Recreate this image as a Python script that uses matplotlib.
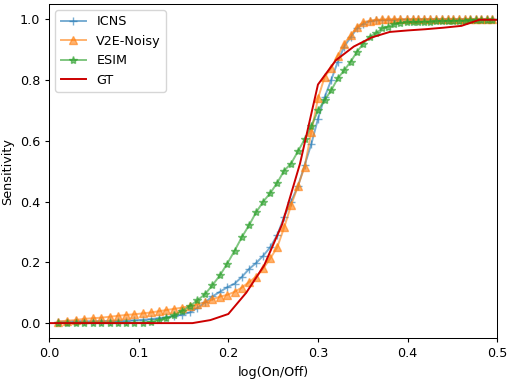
import numpy as np
import matplotlib
matplotlib.use("Agg")
import matplotlib.pyplot as plt

# contrast ratios sampled (x = log(On/Off))
contrast = np.arange(101, 165) / 100.0

icns = [0.005, 0.005, 0.006, 0.006, 0.006, 0.007, 0.007, 0.008, 0.008, 0.009,
        0.011, 0.013, 0.016, 0.019, 0.024, 0.028, 0.035, 0.050, 0.068, 0.088,
        0.103, 0.118, 0.130, 0.152, 0.178, 0.198, 0.222, 0.250, 0.290, 0.350,
        0.400, 0.450, 0.520, 0.590, 0.673, 0.744, 0.800, 0.860, 0.910, 0.940,
        0.970, 0.985, 0.993, 0.996, 0.997, 0.998, 0.998, 0.999, 0.999, 0.999,
        1.000, 1.000, 1.000, 1.000, 1.000, 1.000, 1.000, 1.000, 1.000, 1.000,
        1.000, 1.000, 1.000, 1.000]

v2e = [0.005, 0.008, 0.010, 0.014, 0.016, 0.018, 0.021, 0.024, 0.027, 0.029,
       0.032, 0.035, 0.039, 0.043, 0.047, 0.051, 0.056, 0.062, 0.068, 0.078,
       0.087, 0.093, 0.103, 0.117, 0.135, 0.153, 0.180, 0.213, 0.250, 0.315,
       0.388, 0.450, 0.515, 0.630, 0.740, 0.810, 0.840, 0.880, 0.920, 0.947,
       0.975, 0.990, 0.995, 0.998, 0.999, 1.000, 1.000, 1.000, 1.000, 1.000,
       1.000, 1.000, 1.000, 1.000, 1.000, 1.000, 1.000, 1.000, 1.000, 1.000,
       1.000, 1.000, 1.000, 1.000]

esim = [0.000, 0.000, 0.000, 0.000, 0.000, 0.000, 0.000, 0.000, 0.000, 0.001,
        0.002, 0.004, 0.009, 0.016, 0.026, 0.040, 0.056, 0.075, 0.095, 0.125,
        0.157, 0.196, 0.238, 0.283, 0.322, 0.365, 0.400, 0.428, 0.462, 0.502,
        0.525, 0.565, 0.605, 0.648, 0.700, 0.734, 0.766, 0.805, 0.832, 0.860,
        0.893, 0.920, 0.942, 0.953, 0.970, 0.975, 0.983, 0.988, 0.990, 0.990,
        0.991, 0.992, 0.992, 0.993, 0.993, 0.994, 0.994, 0.995, 0.995, 0.996,
        0.996, 0.997, 0.997, 0.998]

gt_x = [0.00, 0.02, 0.04, 0.06, 0.08, 0.10, 0.12, 0.14, 0.16, 0.18, 0.20, 0.22,
        0.24, 0.26, 0.28, 0.30, 0.32, 0.34, 0.36, 0.38, 0.40, 0.42, 0.44, 0.46,
        0.48, 0.50]
gt = [0.0, 0.0, 0.0, 0.0, 0.0, 0.0, 0.0, 0.0, 0.0, 0.01, 0.03, 0.10,
      0.19, 0.325, 0.525, 0.785, 0.865, 0.91, 0.94, 0.958, 0.963, 0.967, 0.972, 0.978,
      0.998, 0.998]

x = np.log(contrast)

s = 0.92
plt.rcParams.update({
    "font.size": 10 * s,
    "xtick.major.size": 3.5 * s, "ytick.major.size": 3.5 * s,
    "xtick.major.pad": 3.5 * s, "ytick.major.pad": 3.5 * s,
    "axes.linewidth": 0.8 * s,
})

fig = plt.figure(figsize=(5.1, 3.8), dpi=100)
ax = fig.add_axes([0.0961, 0.1097, 0.975 - 0.0961, 0.9895 - 0.1097])

ax.plot(x, icns, color="tab:blue", marker="+", ms=6, lw=1.4, alpha=0.6, label="ICNS")
ax.plot(x, v2e, color="tab:orange", marker="^", ms=6, lw=1.4, alpha=0.6, label="V2E-Noisy")
ax.plot(x, esim, color="tab:green", marker="*", ms=6, lw=1.4, alpha=0.6, label="ESIM")
ax.plot(gt_x, gt, color="#cc0000", lw=1.4, label="GT")

ax.set_xlim(0, 0.5)
ax.set_ylim(-0.05, 1.05)
ax.set_xticks([0.0, 0.1, 0.2, 0.3, 0.4, 0.5])
ax.set_yticks([0.0, 0.2, 0.4, 0.6, 0.8, 1.0])
ax.set_xlabel("log(On/Off)")
ax.set_ylabel("Sensitivity")
ax.legend(loc="upper left")

fig.savefig("out.png", dpi=100)
